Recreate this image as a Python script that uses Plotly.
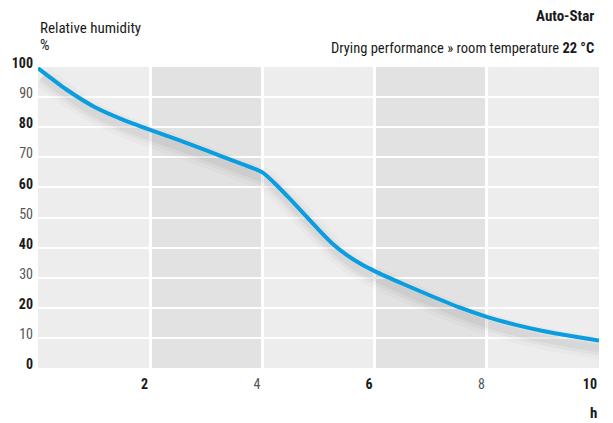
import plotly.graph_objects as go

# drying curve
hours = [0, 0.5, 1, 1.5, 2, 2.5, 3, 3.5, 4, 4.25, 4.5, 5, 5.25, 5.5, 5.75, 6,
         6.5, 7, 7.5, 8, 8.5, 9, 9.5, 10]
humidity = [99.6, 92.6, 86.8, 82.6, 79.1, 75.8, 72.3, 68.7, 65.0, 60.8, 56.0, 46.0,
            41.3, 37.6, 34.6, 32.2, 28.0, 24.0, 20.2, 17.0, 14.4, 12.3, 10.6, 9.1]

x_ticks = [2, 4, 6, 8, 10]
y_ticks = [0, 10, 20, 30, 40, 50, 60, 70, 80, 90, 100]
bands = [(0, 2), (2, 4), (4, 6), (6, 8), (8, 10)]

font_family = "Roboto Condensed, DejaVu Sans Condensed, sans-serif"
light_bg = "#ecedec"
dark_bg = "#e1e2e1"
line_color = "#0a9de0"


def tick_label(v, bold):
    if bold:
        return "<b>%d</b>" % v
    return "<span style='color:#555'>%d</span>" % v


fig = go.Figure()

# soft drop shadow under the curve
for width, alpha in [(22, 0.02), (14, 0.03), (8, 0.04)]:
    fig.add_trace(
        go.Scatter(
            x=[h + 0.08 for h in hours],
            y=[v - 2.8 for v in humidity],
            mode="lines",
            line=dict(color="rgba(0,0,0,%s)" % alpha, width=width, shape="spline", smoothing=0.6),
            hoverinfo="skip",
            showlegend=False,
        )
    )

fig.add_trace(
    go.Scatter(
        x=hours,
        y=humidity,
        mode="lines",
        line=dict(color=line_color, width=4, shape="spline", smoothing=0.6),
        showlegend=False,
    )
)

for i, (a, b) in enumerate(bands):
    fig.add_shape(
        type="rect",
        x0=a,
        x1=b,
        y0=0,
        y1=100,
        xref="x",
        yref="y",
        fillcolor=light_bg if i % 2 == 0 else dark_bg,
        line_width=0,
        layer="below",
    )

fig.update_xaxes(
    range=[0, 10],
    tickvals=x_ticks,
    ticktext=[tick_label(v, v % 4 != 0) for v in x_ticks],
    ticks="",
    ticklabelposition="outside left",
    ticklabelstandoff=6,
    ticklabelshift=-2,
    showgrid=True,
    gridcolor="white",
    gridwidth=3,
    zeroline=False,
    showline=False,
    automargin=False,
    tickfont=dict(size=14, color="#1a1a1a"),
    fixedrange=True,
)
fig.update_yaxes(
    range=[0, 100],
    tickvals=y_ticks,
    ticktext=[tick_label(v, v % 20 == 0) for v in y_ticks],
    ticks="",
    ticklabelposition="outside top",
    ticklabelstandoff=4,
    ticklabelshift=6,
    showgrid=True,
    gridcolor="white",
    gridwidth=2,
    zeroline=False,
    showline=False,
    automargin=False,
    tickfont=dict(size=14, color="#1a1a1a"),
    fixedrange=True,
)

annotations = [
    dict(text="<b>Auto-Star</b>", x=1, y=1.17, xanchor="right", xshift=-3, size=15),
    dict(text="Drying performance » room temperature <b>22 °C</b>", x=1, y=1.063,
         xanchor="right", xshift=-3, size=14.5),
    dict(text="Relative humidity", x=0, y=1.13, xanchor="left", size=15),
    dict(text="%", x=0, y=1.073, xanchor="left", size=15),
    dict(text="<b>h</b>", x=1, y=-0.1495, xanchor="right", size=15),
]
for a in annotations:
    size = a.pop("size")
    fig.add_annotation(
        xref="paper",
        yref="paper",
        yanchor="middle",
        showarrow=False,
        font=dict(size=size, color="#1a1a1a", family=font_family),
        **a,
    )

# the page adds an 8px body margin, so the figure is drawn 8px smaller
fig.update_layout(
    width=605,
    height=415,
    margin=dict(l=30, r=14, t=59, b=55),
    paper_bgcolor="white",
    plot_bgcolor="white",
    font=dict(family=font_family, size=14, color="#1a1a1a"),
    showlegend=False,
)

fig.write_html("out.html", config={"displayModeBar": False})
